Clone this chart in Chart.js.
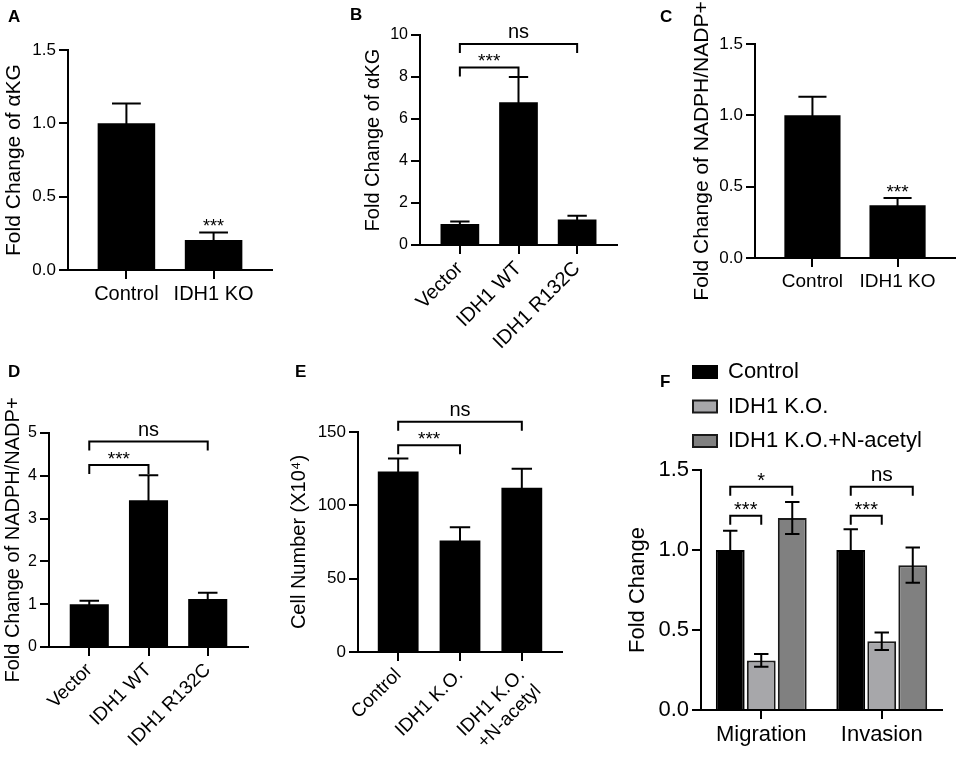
<!DOCTYPE html>
<html>
<head>
<meta charset="utf-8">
<script src="https://cdn.jsdelivr.net/npm/chart.js@4.4.1/dist/chart.umd.min.js"></script>
<style>
  body { margin: 0; background: #fff; }
  #fig { position: relative; width: 957px; height: 758px; overflow: hidden; font-family: "Liberation Sans", Arial, sans-serif; }
  #fig canvas { position: absolute; }
  .tag { position: absolute; font-weight: bold; font-size: 17px; line-height: 1; z-index: 2; }
</style>
</head>
<body>
<div id="fig">
  <div class="tag" style="left:8px;top:8px">A</div>
  <div class="tag" style="left:350px;top:6px">B</div>
  <div class="tag" style="left:660px;top:8px">C</div>
  <div class="tag" style="left:8px;top:363px">D</div>
  <div class="tag" style="left:295px;top:363px">E</div>
  <div class="tag" style="left:660px;top:373px">F</div>
  <canvas id="chartA" width="300" height="330" style="left:0;top:0"></canvas>
  <canvas id="chartB" width="275" height="370" style="left:355px;top:0"></canvas>
  <canvas id="chartC" width="277" height="330" style="left:680px;top:0"></canvas>
  <canvas id="chartD" width="265" height="388" style="left:0;top:370px"></canvas>
  <canvas id="chartE" width="290" height="388" style="left:280px;top:370px"></canvas>
  <canvas id="chartF" width="342" height="418" style="left:615px;top:340px"></canvas>
</div>
<script>
// A: alpha-KG after IDH1 knockout
const koGroups = ['Control', 'IDH1 KO'];
const akgKoMean = [1.0, 0.205];
const akgKoSem = [0.135, 0.05];
const akgKoSig = ['', '***'];

// B: alpha-KG after IDH1 overexpression
const oeGroups = ['Vector', 'IDH1 WT', 'IDH1 R132C'];
const akgOeMean = [1.0, 6.8, 1.22];
const akgOeSem = [0.12, 1.2, 0.17];
const akgOeBrackets = [
  { from: 0, to: 1, level: 8.45, text: '***' },
  { from: 0, to: 2, level: 9.57, text: 'ns' }
];

// C: NADPH/NADP+ after knockout
const nadpKoMean = [1.0, 0.37];
const nadpKoSem = [0.13, 0.05];
const nadpKoSig = ['', '***'];

// D: NADPH/NADP+ after overexpression
const nadpOeMean = [1.0, 3.43, 1.12];
const nadpOeSem = [0.08, 0.58, 0.15];
const nadpOeBrackets = [
  { from: 0, to: 1, level: 4.25, text: '***' },
  { from: 0, to: 2, level: 4.8, text: 'ns' }
];

// E: cell number
const cellGroups = ['Control', 'IDH1 K.O.', ['IDH1 K.O.', '+N-acetyl']];
const cellMean = [123, 76, 112];
const cellSem = [9, 9, 13];
const cellBrackets = [
  { from: 0, to: 1, level: 141, text: '***' },
  { from: 0, to: 2, level: 157, text: 'ns' }
];

// F: migration / invasion
const assays = ['Migration', 'Invasion'];
const seriesNames = ['Control', 'IDH1 K.O.', 'IDH1 K.O.+N-acetyl'];
const ctrlMean = [1.0, 1.0];
const ctrlSem = [0.12, 0.13];
const koMean = [0.31, 0.43];
const koSem = [0.04, 0.055];
const nacMean = [1.2, 0.905];
const nacSem = [0.1, 0.11];
const assayBrackets = [
  { from: [0, 0], to: [1, 0], level: 1.214, text: '***' },
  { from: [0, 0], to: [2, 0], level: 1.396, text: '*' },
  { from: [0, 1], to: [1, 1], level: 1.214, text: '***' },
  { from: [0, 1], to: [2, 1], level: 1.396, text: 'ns' }
];

Chart.defaults.font.family = '"Liberation Sans", Arial, sans-serif';
Chart.defaults.color = '#000';
Chart.defaults.animation = false;
Chart.defaults.plugins.legend.display = false;
Chart.defaults.plugins.tooltip.enabled = false;

// error bars, significance stars and brackets
const errorBars = {
  id: 'errorBars',
  defaults: { brackets: [], stars: [], starSize: 19, textSize: 20 },
  afterDatasetsDraw(chart, args, opts) {
    const { ctx } = chart;
    const y = chart.scales.y;
    const ref = r => Array.isArray(r) ? r : [0, r];
    const barAt = r => chart.getDatasetMeta(ref(r)[0]).data[ref(r)[1]];
    const label = (text, x, py) => {
      const stars = /^\*+$/.test(text);
      const size = stars ? opts.starSize : opts.textSize;
      ctx.font = size + 'px "Liberation Sans", Arial, sans-serif';
      ctx.textAlign = 'center';
      ctx.textBaseline = 'alphabetic';
      ctx.fillText(text, x, py - 6 + (stars ? 0.3 * size : 0));
    };
    ctx.save();
    ctx.strokeStyle = '#000';
    ctx.fillStyle = '#000';
    ctx.lineWidth = 2;
    chart.data.datasets.forEach((ds, d) => {
      chart.getDatasetMeta(d).data.forEach((bar, i) => {
        const v = ds.data[i];
        const mean = typeof v === 'object' ? v.y : v;
        const top = y.getPixelForValue(mean + ds.sem[i]);
        const bottom = y.getPixelForValue(mean - ds.sem[i]);
        const half = bar.width / 4;
        ctx.beginPath();
        ctx.moveTo(bar.x, bottom);
        ctx.lineTo(bar.x, top);
        ctx.moveTo(bar.x - half, top);
        ctx.lineTo(bar.x + half, top);
        ctx.moveTo(bar.x - half, bottom);
        ctx.lineTo(bar.x + half, bottom);
        ctx.stroke();
        const s = opts.stars[i];
        if (d === 0 && s) label(s, bar.x, top);
      });
    });
    opts.brackets.forEach(b => {
      const x1 = barAt(b.from).x;
      const x2 = barAt(b.to).x;
      const py = y.getPixelForValue(b.level);
      ctx.beginPath();
      ctx.moveTo(x1, py + 9);
      ctx.lineTo(x1, py);
      ctx.lineTo(x2, py);
      ctx.lineTo(x2, py + 9);
      ctx.stroke();
      label(b.text, (x1 + x2) / 2, py);
    });
    ctx.restore();
  }
};
Chart.register(errorBars);

function yScale(max, step, title, o) {
  return {
    min: 0, max,
    ticks: { stepSize: step, padding: 3, color: '#000', font: { size: o.tick },
             callback: v => o.dec ? v.toFixed(1) : v },
    grid: { drawOnChartArea: false, tickLength: 9, color: '#000', lineWidth: 2 },
    border: { color: '#000', width: 2 },
    title: { display: true, text: title, color: '#000', font: { size: o.title },
             padding: { top: o.titlePad, bottom: 0 } },
    afterFit: s => { s.width = o.width; s.paddingTop = 0; s.paddingBottom = 0; }
  };
}

function xLinear(labels, margin, o) {
  return {
    type: 'linear', offset: false, bounds: 'data',
    min: -margin, max: labels.length - 1 + margin,
    afterBuildTicks: s => { s.ticks = labels.map((_, i) => ({ value: i })); },
    ticks: { autoSkip: false, padding: o.pad, color: '#000', font: { size: o.tick },
             maxRotation: o.rot, minRotation: o.rot, callback: (v, i) => labels[i] },
    grid: { drawOnChartArea: false, offset: false, tickLength: 9, color: '#000', lineWidth: 2 },
    border: { color: '#000', width: 2 },
    afterFit: s => { s.height = o.height; s.paddingLeft = 0; s.paddingRight = 0; }
  };
}

function blackBars(mean, sem) {
  return [{
    data: mean.map((v, i) => ({ x: i, y: v })),
    sem,
    backgroundColor: '#000',
    categoryPercentage: 1,
    barPercentage: 0.66
  }];
}

new Chart(document.getElementById('chartA'), {
  type: 'bar',
  data: { datasets: blackBars(akgKoMean, akgKoSem) },
  options: {
    responsive: false,
    layout: { padding: { left: 0, top: 50, right: 28, bottom: 0 } },
    scales: {
      x: xLinear(koGroups, 0.67, { tick: 20, pad: 3, rot: 0, height: 60 }),
      y: yScale(1.5, 0.5, 'Fold Change of αKG', { tick: 17, dec: true, title: 21, titlePad: 2, width: 68 })
    },
    plugins: { errorBars: { stars: akgKoSig, starSize: 18 } }
  }
});

new Chart(document.getElementById('chartB'), {
  type: 'bar',
  data: { datasets: blackBars(akgOeMean, akgOeSem) },
  options: {
    responsive: false,
    layout: { padding: { left: 0, top: 35, right: 13, bottom: 0 } },
    scales: {
      x: xLinear(oeGroups, 0.68, { tick: 20, pad: 3, rot: 45, height: 125 }),
      y: yScale(10, 2, 'Fold Change of αKG', { tick: 16, title: 20, titlePad: 6, width: 65 })
    },
    plugins: { errorBars: { brackets: akgOeBrackets, starSize: 19 } }
  }
});

new Chart(document.getElementById('chartC'), {
  type: 'bar',
  data: { datasets: blackBars(nadpKoMean, nadpKoSem) },
  options: {
    responsive: false,
    layout: { padding: { left: 0, top: 44, right: 2, bottom: 0 } },
    scales: {
      x: xLinear(koGroups, 0.675, { tick: 19, pad: 3, rot: 0, height: 72 }),
      y: yScale(1.5, 0.5, 'Fold Change of NADPH/NADP+', { tick: 17, dec: true, title: 21, titlePad: 9.4, width: 75 })
    },
    plugins: { errorBars: { stars: nadpKoSig, starSize: 19 } }
  }
});

new Chart(document.getElementById('chartD'), {
  type: 'bar',
  data: { datasets: blackBars(nadpOeMean, nadpOeSem) },
  options: {
    responsive: false,
    layout: { padding: { left: 0, top: 63, right: 17, bottom: 0 } },
    scales: {
      x: xLinear(oeGroups, 0.68, { tick: 19, pad: 3, rot: 45, height: 111 }),
      y: yScale(5, 1, 'Fold Change of NADPH/NADP+', { tick: 16, title: 20, titlePad: 1, width: 49 })
    },
    plugins: { errorBars: { brackets: nadpOeBrackets, starSize: 19 } }
  }
});

new Chart(document.getElementById('chartE'), {
  type: 'bar',
  data: { datasets: blackBars(cellMean, cellSem) },
  options: {
    responsive: false,
    layout: { padding: { left: 0, top: 62, right: 8, bottom: 0 } },
    scales: {
      x: xLinear(cellGroups, 0.65, { tick: 19, pad: 3, rot: 45, height: 106 }),
      y: yScale(150, 50, 'Cell Number (X10⁴)', { tick: 17, title: 20, titlePad: 7, width: 78 })
    },
    plugins: { errorBars: { brackets: cellBrackets, starSize: 19 } }
  }
});

const fFill = ['#000000', '#a7a7aa', '#808080'];
const fEdge = ['#000000', '#1a1a1a', '#1a1a1a'];
const fMeans = [ctrlMean, koMean, nacMean];
const fSems = [ctrlSem, koSem, nacSem];

new Chart(document.getElementById('chartF'), {
  type: 'bar',
  data: {
    labels: assays,
    datasets: seriesNames.map((name, k) => ({
      label: name,
      data: fMeans[k],
      sem: fSems[k],
      backgroundColor: fFill[k],
      borderColor: fEdge[k],
      borderWidth: 2,
      categoryPercentage: 0.772,
      barPercentage: 0.93
    }))
  },
  options: {
    responsive: false,
    layout: { padding: { left: 0, top: 16.5, right: 15, bottom: 0 } },
    scales: {
      x: {
        offset: true,
        ticks: { padding: 3, color: '#000', font: { size: 22 } },
        grid: { drawOnChartArea: false, offset: false, tickLength: 9, color: '#000', lineWidth: 2 },
        border: { color: '#000', width: 2 },
        afterFit: s => { s.height = 48; s.paddingLeft = 0; s.paddingRight = 0; }
      },
      y: yScale(1.5, 0.5, 'Fold Change', { tick: 22, dec: true, title: 22, titlePad: 9.8, width: 86 })
    },
    plugins: {
      legend: {
        display: true, position: 'top', align: 'start', fullSize: false,
        labels: { boxWidth: 24, boxHeight: 12, padding: 12.5, color: '#000', font: { size: 22 } }
      },
      errorBars: { brackets: assayBrackets, starSize: 20, textSize: 21 }
    }
  },
  plugins: [{
    id: 'legendNudge',
    afterLayout(chart) {
      chart.legend.left -= 20.5;
      chart.legend.right -= 20.5;
      chart.legend.top -= 8;
      chart.legend.bottom -= 8;
    }
  }]
});
</script>
</body>
</html>
